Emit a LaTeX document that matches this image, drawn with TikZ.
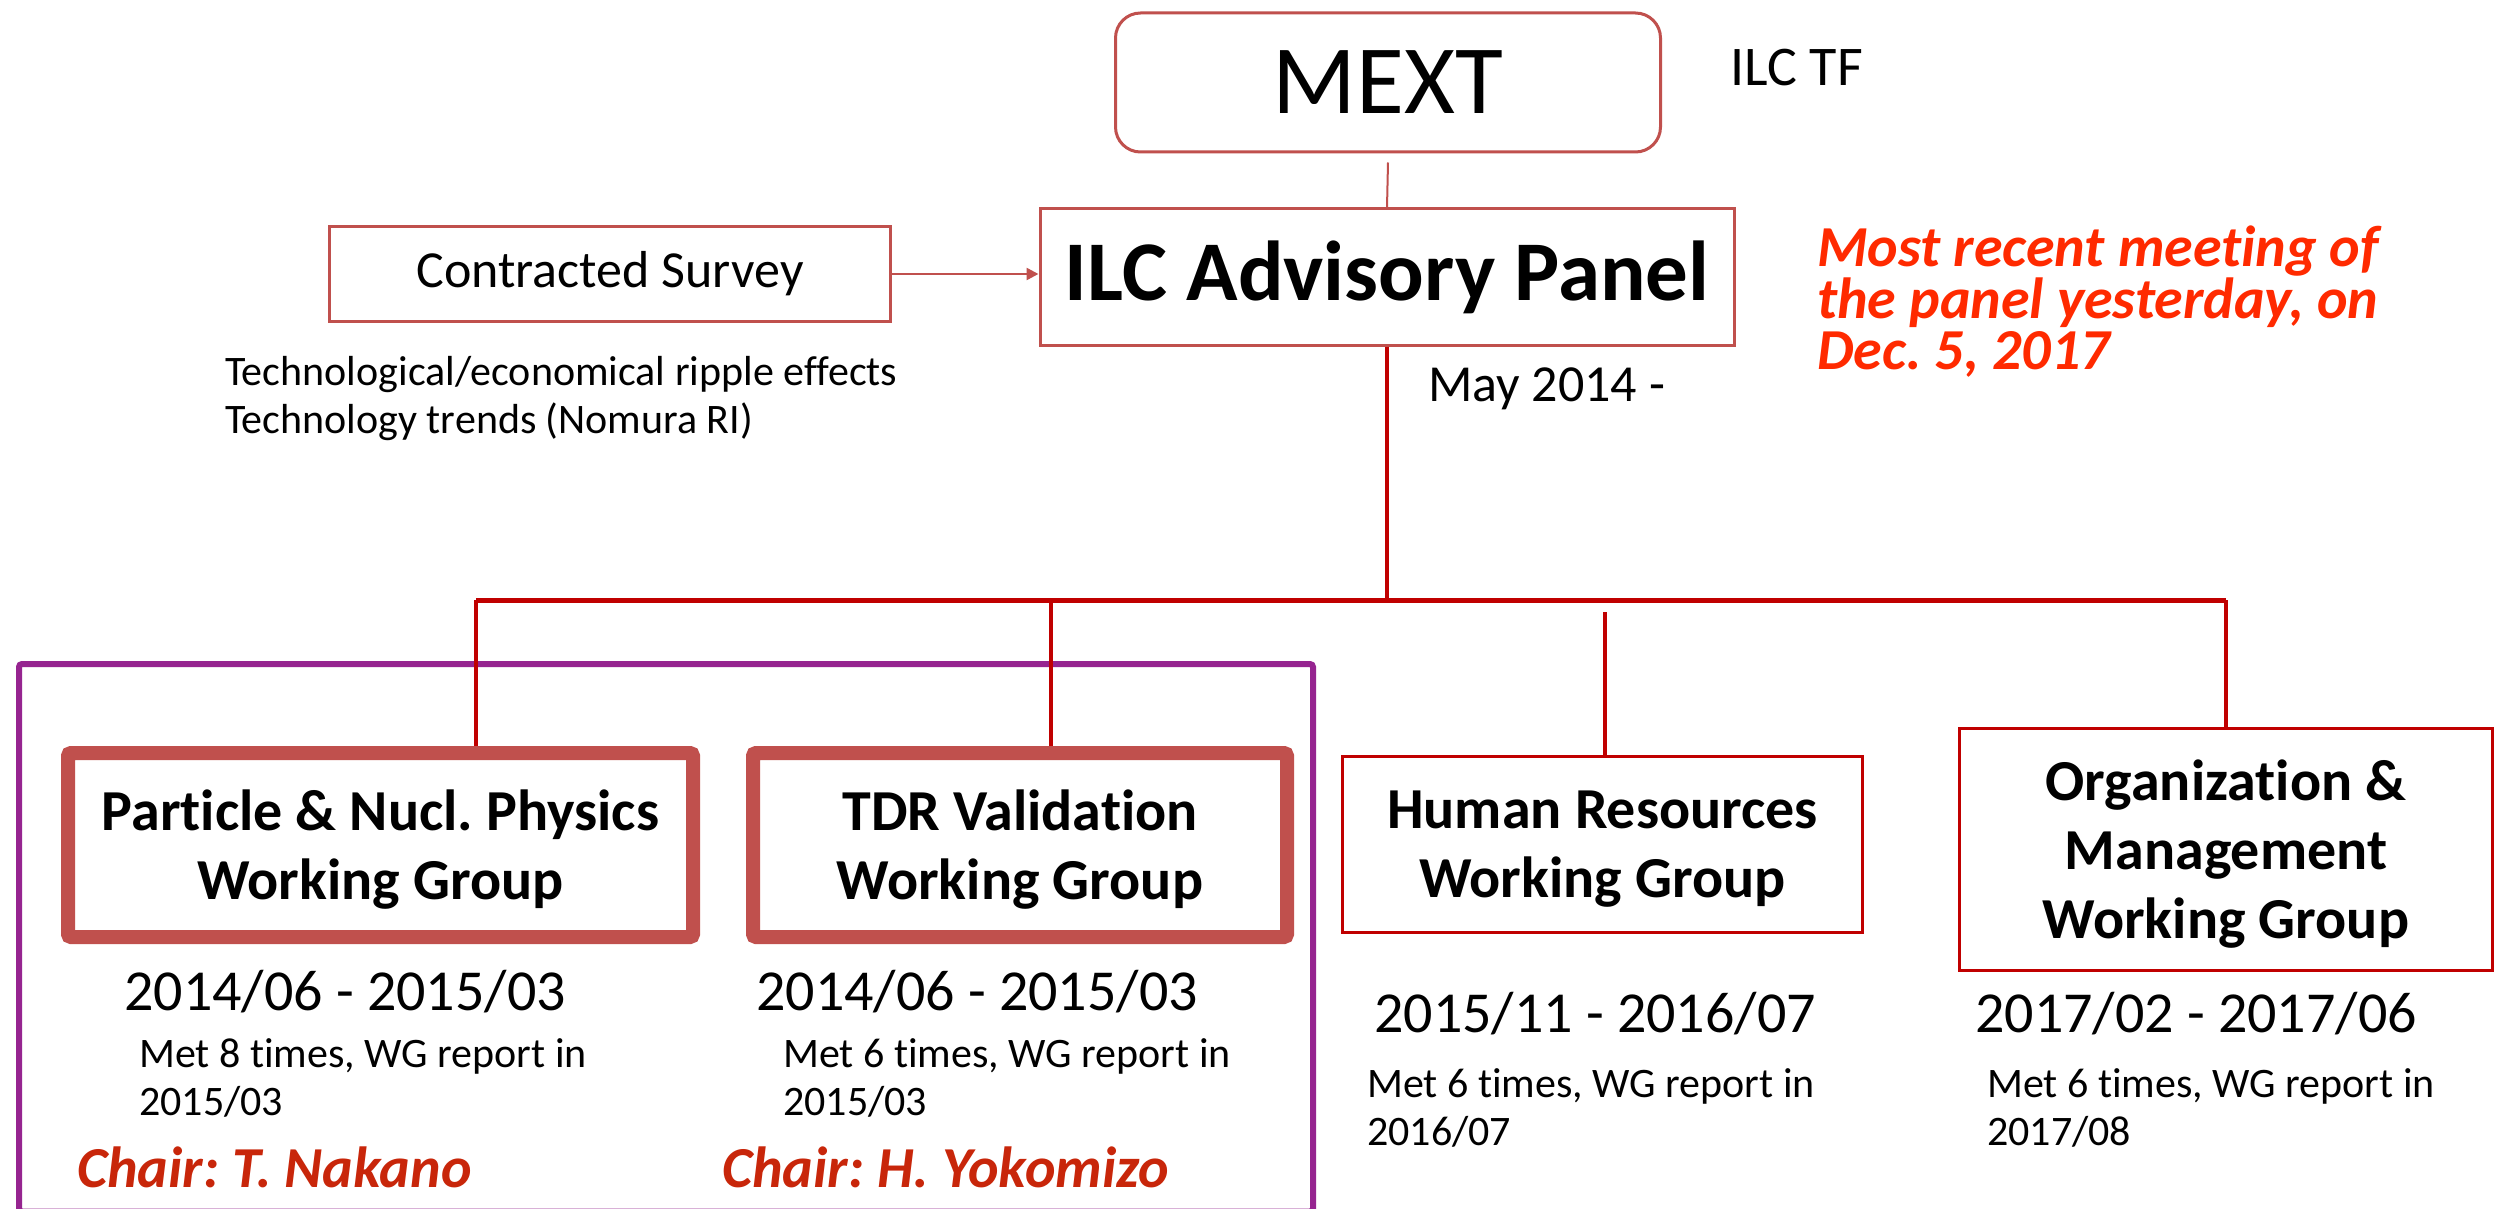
\documentclass[tikz,border=0pt]{standalone}
\usepackage{fontspec}
\setmainfont{Carlito}[Ligatures=NoCommon]
\usetikzlibrary{arrows.meta}
\definecolor{boxred}{HTML}{C0504D}
\definecolor{darkred}{HTML}{C00000}
\definecolor{wgpurple}{HTML}{962490}
\definecolor{chairred}{HTML}{C8260A}
\definecolor{notered}{HTML}{FF2A00}
\frenchspacing
\begin{document}
\begin{tikzpicture}[x=1pt,y=-1pt,
  thinbox/.style={draw=boxred, line width=3, inner sep=0, align=center},
  thickbox/.style={draw=boxred, line width=14, rounded corners=3, inner sep=0, align=center,
     text depth=0, font=\fontsize{58}{69}\selectfont\bfseries},
  wgbox/.style={draw=darkred, line width=3, inner sep=0, align=center,
     text depth=0, font=\fontsize{58}{69}\selectfont\bfseries},
  conn/.style={draw=darkred, line width=4},
  datetxt/.style={inner sep=0, font=\fontsize{58}{60}\selectfont},
  mettxt/.style={inner sep=0, anchor=west, align=left, font=\fontsize{42}{48}\selectfont},
  chairtxt/.style={inner sep=0, anchor=west, text=chairred, font=\fontsize{58}{60}\selectfont\bfseries\itshape},
  notetxt/.style={inner sep=0, anchor=base west, text depth=0, text=notered,
     font=\fontsize{58}{51}\selectfont\bfseries\itshape}
]
\useasboundingbox (0,0) rectangle (2504,1209);
\fill[white] (0,0) rectangle (2504,1209);

% purple group frame
\draw[wgpurple, line width=6, rounded corners=3] (19,664) rectangle (1313,1211.5);

% top boxes
\node[thinbox, rounded corners=25, minimum width=545, minimum height=139,
      font=\fontsize{98}{100}\selectfont] (mext) at (1388,82.5) {MEXT};
\node[inner sep=0, anchor=west, font=\fontsize{56}{60}\selectfont] (ilctf) at (1730,68) {ILC TF};
\node[thinbox, minimum width=694, minimum height=136,
      font=\fontsize{85}{90}\selectfont\bfseries] (ilc) at (1387,277) {ILC Advisory Panel};
\node[thinbox, minimum width=561, minimum height=94,
      font=\fontsize{52}{56}\selectfont] (cs) at (610,274) {Contracted Survey};
\node[inner sep=0, anchor=west, align=left, font=\fontsize{42}{48}\selectfont] (tech) at (225,399)
  {Technological/economical ripple effects\\Technology trends (Nomura RI)};
\node[inner sep=0, anchor=west, font=\fontsize{52}{56}\selectfont] (may) at (1428,389) {May 2014 -};
\node[notetxt] (note1) at (1817,267) {Most recent meeting of};
\node[notetxt] (note2) at (1817,318) {the panel yesterday, on};
\node[notetxt] (note3) at (1817,369) {Dec. 5, 2017};

% connectors at the top
\draw[boxred, line width=2] (mext.south) ++(0,9) -- (ilc.north);
\draw[boxred, line width=2.5, -{Triangle[length=12,width=12]}] (cs.east) -- (cs.east -| ilc.west);

% working group boxes
\node[thickbox, minimum width=625, minimum height=184] (pnp) at (380.5,845)
  {Particle \& Nucl. Physics\\Working Group};
\node[thickbox, minimum width=534, minimum height=184] (tdr) at (1020,845)
  {TDR Validation\\Working Group};
\node[wgbox, minimum width=520, minimum height=176] (hr) at (1602.5,844.5)
  {Human Resources\\Working Group};
\node[wgbox, minimum width=533, minimum height=242] (om) at (2226,849)
  {Organization \&\\Management\\Working Group};

% tree connectors
\coordinate (hub) at (1387,600);
\coordinate (jl) at (476,600);
\coordinate (j2) at (1051,600);
\coordinate (j3) at (1605,612);
\coordinate (jr) at (2226,600);
\draw[conn] (ilc.south) -- (hub);
\draw[darkred, line width=5] (jl) -- (jr);
\draw[conn] (jl) -- (jl |- pnp.north);
\draw[conn] (j2) -- (j2 |- tdr.north);
\draw[conn] (j3) -- (j3 |- hr.north);
\draw[conn] (jr) -- (jr |- om.north);

% dates and notes
\node[datetxt] (d1) at (345,992) {2014/06 - 2015/03};
\node[datetxt] (d2) at (977,992) {2014/06 - 2015/03};
\node[datetxt] (d3) at (1595,1014) {2015/11 - 2016/07};
\node[datetxt] (d4) at (2196,1014) {2017/02 - 2017/06};
\node[mettxt] (m1) at (139,1078) {Met 8 times, WG report in\\2015/03};
\node[mettxt] (m2) at (783,1078) {Met 6 times, WG report in\\2015/03};
\node[mettxt] (m3) at (1367,1108) {Met 6 times, WG report in\\2016/07};
\node[mettxt] (m4) at (1987,1108) {Met 6 times, WG report in\\2017/08};
\node[chairtxt] (c1) at (77,1167) {Chair: T. Nakano};
\node[chairtxt] (c2) at (722,1167) {Chair: H. Yokomizo};
\end{tikzpicture}
\end{document}
